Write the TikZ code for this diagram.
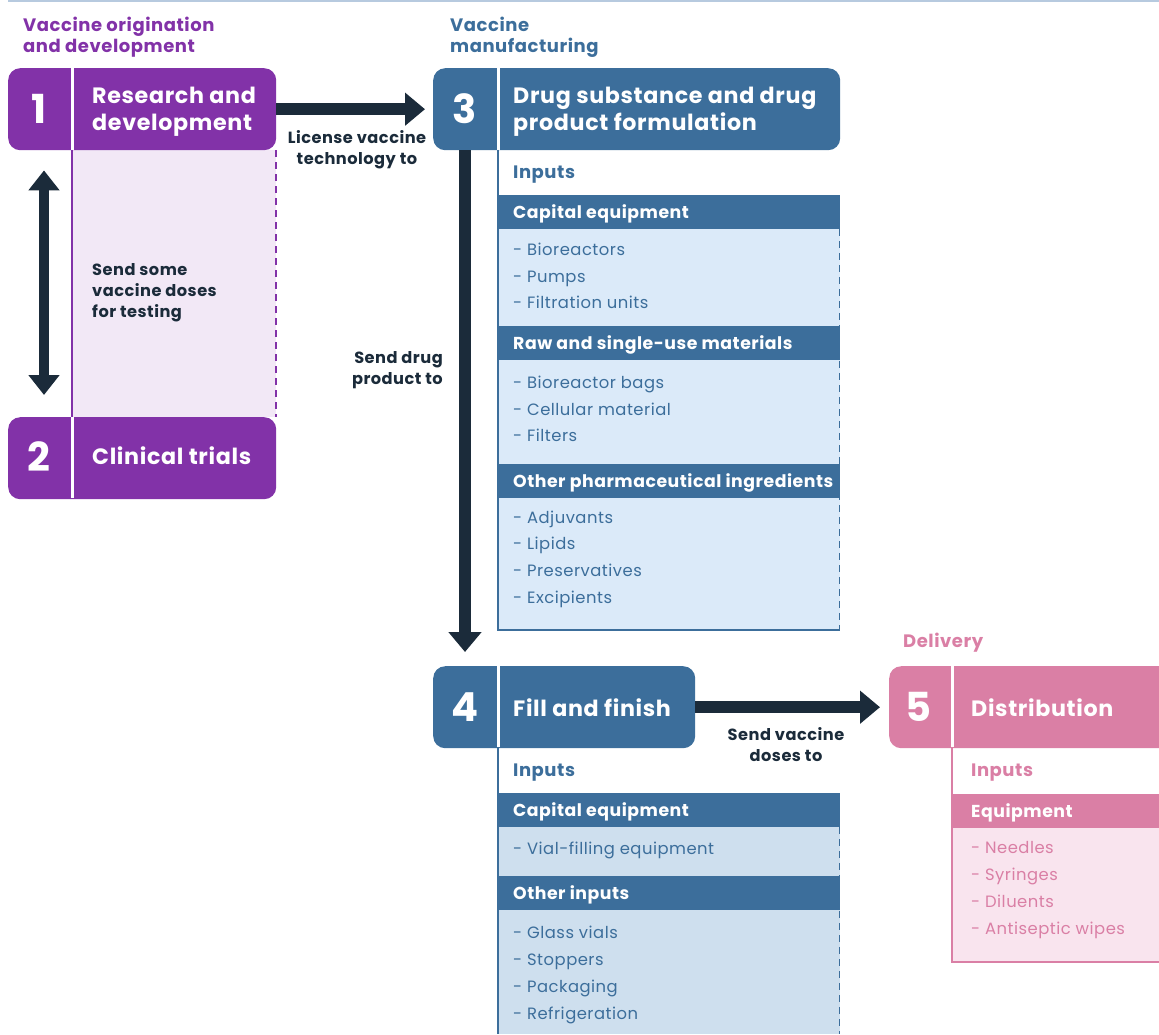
\documentclass[tikz,border=0pt]{standalone}
\usepackage{fontspec}
\setmainfont{Poppins}[LetterSpace=3]
\usetikzlibrary{arrows.meta,positioning}

\definecolor{vpurple}{HTML}{8232A8}
\definecolor{vpurplebg}{HTML}{F2E8F6}
\definecolor{vblue}{HTML}{3C6E9B}
\definecolor{vbluebg}{HTML}{DBEAF9}
\definecolor{vbluebgb}{HTML}{CEDFEE}
\definecolor{vpink}{HTML}{DA7FA5}
\definecolor{vpinkbg}{HTML}{F9E4EE}
\definecolor{vnavy}{HTML}{1B2B3A}
\definecolor{vrule}{HTML}{B7CADF}

\tikzset{
  stagebox/.style={anchor=north west, rounded corners=12pt, minimum height=82pt, inner sep=0pt},
  stagenum/.style={text=white, inner sep=0pt, font=\fontsize{40}{40}\selectfont\bfseries},
  stagetitle/.style={anchor=west, align=left, text=white, inner sep=0pt, font=\fontsize{22.2}{27}\selectfont\bfseries},
  phase/.style={anchor=west, align=left, inner sep=0pt, font=\fontsize{18}{21}\selectfont\bfseries},
  band/.style={anchor=north west, minimum width=342pt, minimum height=34pt, inner sep=0pt},
  bandtext/.style={anchor=west, inner sep=0pt, text=white, yshift=-2pt, font=\fontsize{17.3}{21}\selectfont\bfseries},
  items/.style={anchor=west, align=left, inner sep=0pt, font=\fontsize{16.4}{26.7}\selectfont},
  flow/.style={draw=vnavy, line width=12pt, -{Triangle[width=32pt,length=20pt]}},
  flowlabel/.style={inner sep=0pt, text=vnavy, font=\fontsize{16.2}{21}\selectfont\bfseries},
  dashedge/.style={line width=1.2pt, dash pattern=on 7pt off 5pt},
}

\begin{document}
\begin{tikzpicture}[x=1pt,y=-1pt]
  \clip (0,0) rectangle (1159,1034);
  \draw[vrule, line width=2.5pt] (8,1) -- (1159,1);

  % origination and development
  \node[phase, text=vpurple] (PH1) at (23,37) {Vaccine origination\\and development};
  \fill[vpurplebg] (72,150) rectangle (276,417);
  \draw[vpurple, line width=2pt] (72,150) -- (72,417);
  \draw[vpurple, dashedge] (276,150) -- (276,417);

  \node[stagebox, fill=vpurple, minimum width=268pt] (RD) at (8,68) {};
  \node[stagebox, fill=vpurple, minimum width=268pt] (CT) at (8,417) {};
  \draw[white, line width=3pt] (72,68) -- (72,150) (72,417) -- (72,498);
  \node[stagenum] (N1) at (39,109) {1};
  \node[stagenum] (N2) at (39,457) {2};
  \node[stagetitle] (T1) at (92,112) {Research and\\development};
  \node[stagetitle] (T2) at (92,456) {Clinical trials};
  \node[flowlabel, anchor=west, align=left] (L12) at (92,293) {Send some\\vaccine doses\\for testing};

  % manufacturing
  \node[phase, text=vblue] (PH3) at (450,37) {Vaccine\\manufacturing};
  \fill[vbluebg] (498,195) rectangle (840,630);
  \node[band, fill=vblue] (B31) at (498,195) {};
  \node[band, fill=vblue] (B32) at (498,326) {};
  \node[band, fill=vblue] (B33) at (498,464) {};
  \draw[vblue, dashedge, line width=1pt] (839,229) -- (839,630);
  \draw[vblue, line width=2pt] (498,150) -- (498,630) -- (840,630);
  \node[phase, text=vblue] (IN3) at (513,175) {Inputs};
  \node[bandtext] at (B31.west) [xshift=15pt] {Capital equipment};
  \node[bandtext] at (B32.west) [xshift=15pt] {Raw and single-use materials};
  \node[bandtext] at (B33.west) [xshift=15pt] {Other pharmaceutical ingredients};
  \node[items, text=vblue] (I31) at (513,276) {- Bioreactors\\- Pumps\\- Filtration units};
  \node[items, text=vblue] (I32) at (513,409) {- Bioreactor bags\\- Cellular material\\- Filters};
  \node[items, text=vblue] (I33) at (513,559) {- Adjuvants\\- Lipids\\- Preservatives\\- Excipients};

  \node[stagebox, fill=vblue, minimum width=407pt] (DS) at (433,68) {};
  \draw[white, line width=3pt] (498,68) -- (498,150);
  \node[stagenum] (N3) at (465,109) {3};
  \node[stagetitle] (T3) at (513,112) {Drug substance and drug\\product formulation};

  \fill[vbluebgb] (498,793) rectangle (840,1034);
  \node[band, fill=vblue] (B41) at (498,793) {};
  \node[band, fill=vblue] (B42) at (498,876) {};
  \draw[vblue, dashedge, line width=1pt] (839,827) -- (839,1034);
  \draw[vblue, line width=2pt] (498,747) -- (498,1034);
  \node[phase, text=vblue] (IN4) at (513,773) {Inputs};
  \node[bandtext] at (B41.west) [xshift=15pt] {Capital equipment};
  \node[bandtext] at (B42.west) [xshift=15pt] {Other inputs};
  \node[items, text=vblue] (I41) at (513,850) {- Vial-filling equipment};
  \node[items, text=vblue] (I42) at (513,975) {- Glass vials\\- Stoppers\\- Packaging\\- Refrigeration};

  \node[stagebox, fill=vblue, minimum width=262pt] (FF) at (433,666) {};
  \draw[white, line width=3pt] (498,666) -- (498,747);
  \node[stagenum] (N4) at (465,707) {4};
  \node[stagetitle] (T4) at (513,708) {Fill and finish};

  % delivery
  \node[phase, text=vpink] (PH5) at (903,643) {Delivery};
  \fill[vpinkbg] (952,794) rectangle (1159,962);
  \node[band, fill=vpink] (B51) at (952,794) {};
  \draw[vpink, line width=2pt] (952,747) -- (952,962) -- (1159,962);
  \node[phase, text=vpink] (IN5) at (971,773) {Inputs};
  \node[bandtext] at (B51.west) [xshift=19pt] {Equipment};
  \node[items, text=vpink] (I51) at (971,890) {- Needles\\- Syringes\\- Diluents\\- Antiseptic wipes};

  \node[stagebox, fill=vpink, minimum width=300pt] (DI) at (889,666) {};
  \draw[white, line width=3pt] (952,666) -- (952,747);
  \node[stagenum] (N5) at (918,707) {5};
  \node[stagetitle] (T5) at (971,708) {Distribution};

  % connectors
  \draw[flow, shorten >=8pt] (RD.east) -- (DS.west);
  \draw[flow, shorten >=14pt] (N3 |- DS.south) -- (N3 |- FF.north);
  \draw[flow, shorten >=9pt] (FF.east) -- (DI.west);
  \draw[flow, line width=10pt, {Triangle[width=30pt,length=20pt]}-{Triangle[width=30pt,length=20pt]},
        shorten <=20pt, shorten >=22pt] ([xshift=5pt]N1 |- RD.south) -- ([xshift=5pt]N1 |- CT.north);

  \node[flowlabel, align=center] (L13) at (357,150) {License vaccine\\technology to};
  \node[flowlabel, align=right, anchor=east] (L34) at (443,370) {Send drug\\product to};
  \node[flowlabel, align=center] (L45) at (786,745) {Send vaccine\\doses to};
\end{tikzpicture}
\end{document}
